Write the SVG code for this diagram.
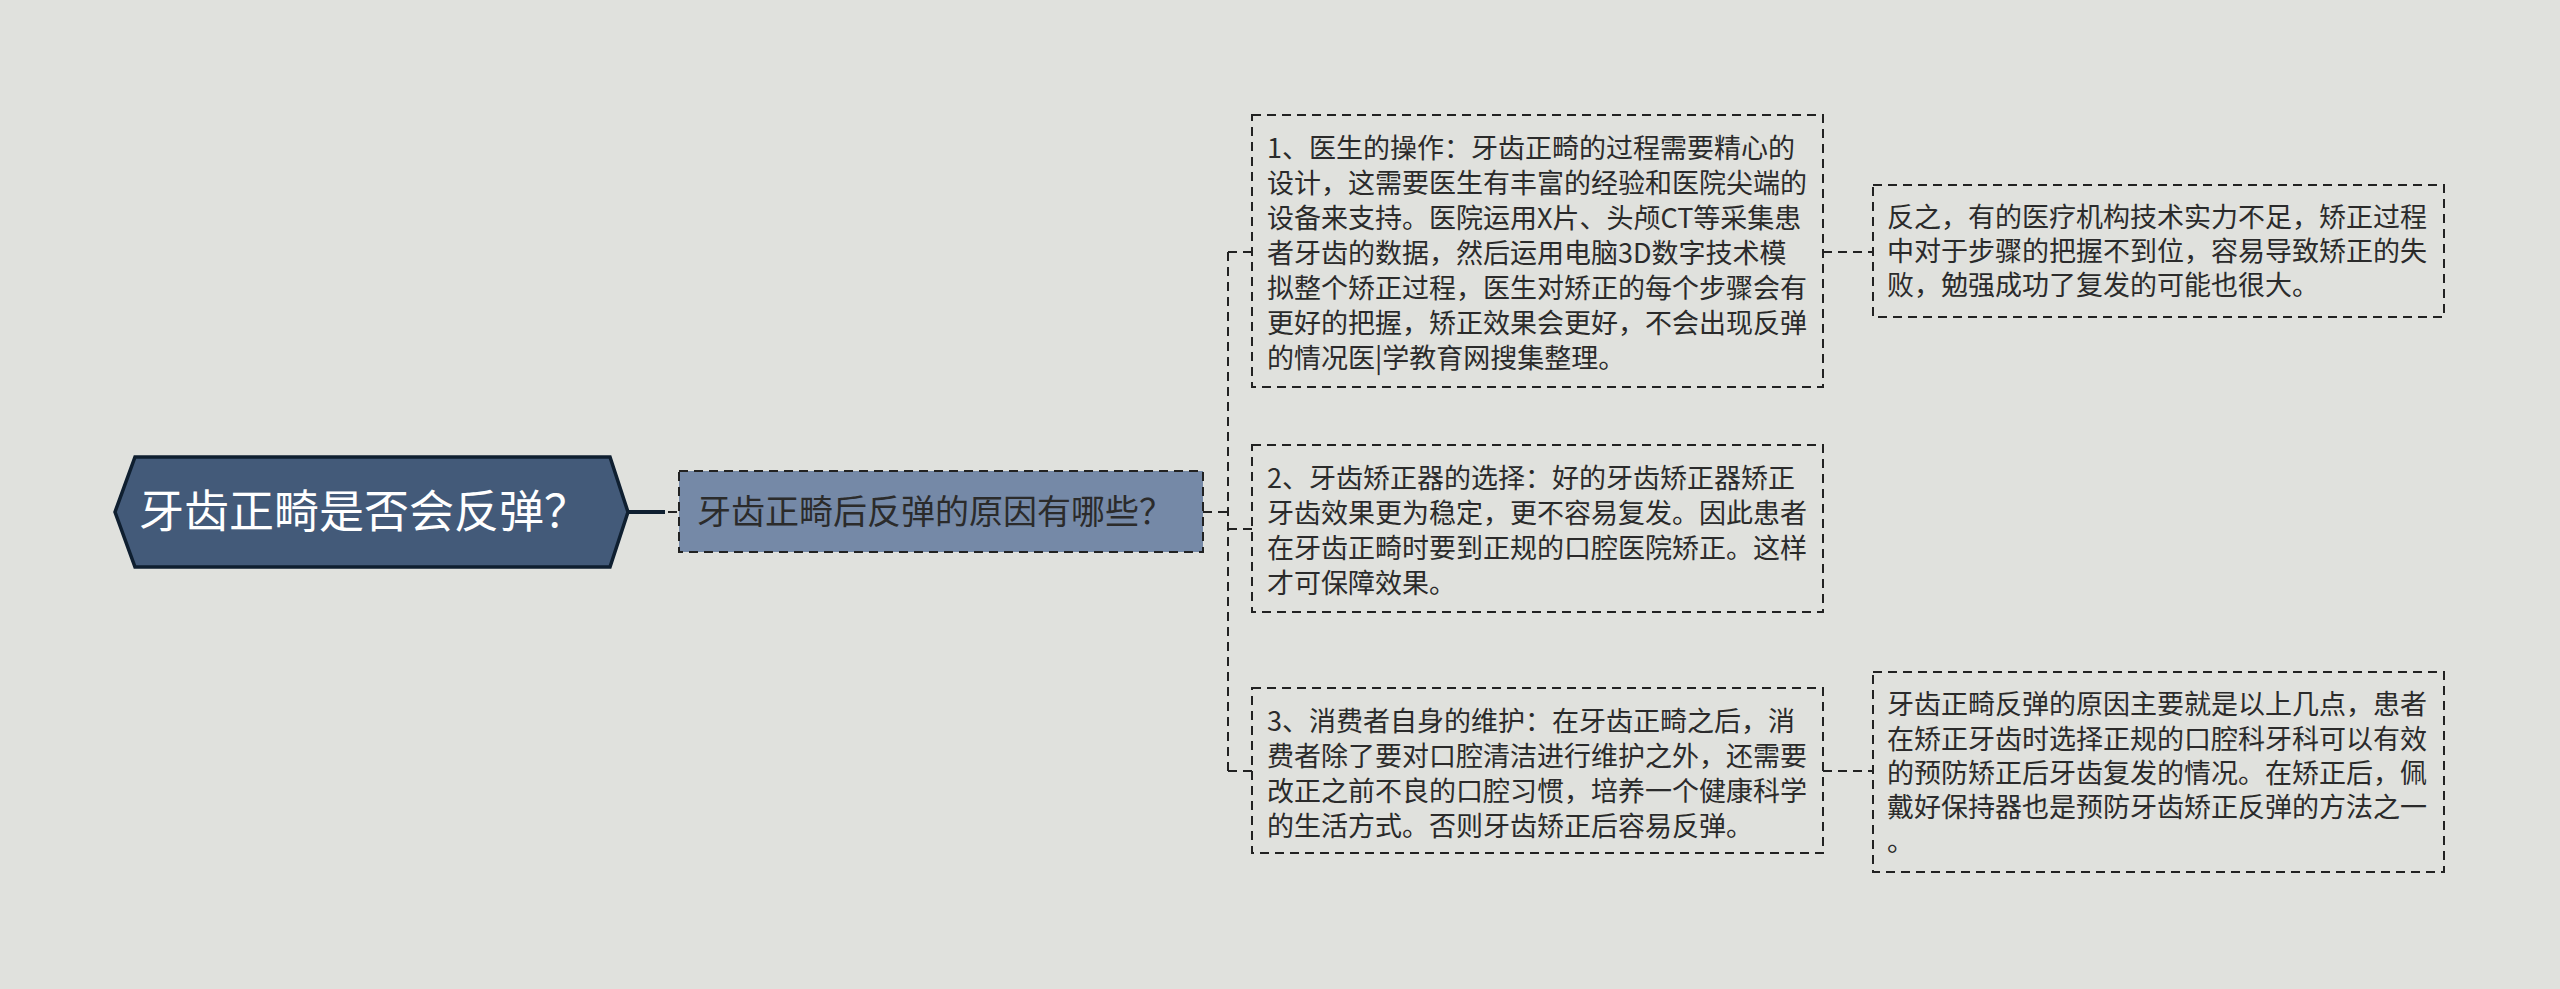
<svg xmlns="http://www.w3.org/2000/svg" width="2560" height="989" viewBox="0 0 2560 989">
<style>
.bg{fill:#e0e1dd}
.box{fill:none;stroke:#222;stroke-width:2;stroke-dasharray:9 6}
.t{font-family:"Noto Sans CJK SC","Noto Sans",sans-serif;font-size:27px;fill:#2b2b2b}
.c{fill:none;stroke:#222;stroke-width:2;stroke-dasharray:9 6}
</style>
<rect class="bg" x="0" y="0" width="2560" height="989"/>
<g id="connectors">
<line x1="628" y1="512" x2="665" y2="512" stroke="#0f1f30" stroke-width="4"/>
<line class="c" x1="668" y1="512" x2="679" y2="512"/>
<line class="c" x1="1203" y1="512" x2="1228" y2="512"/>
<line class="c" x1="1228" y1="252" x2="1228" y2="771"/>
<line class="c" x1="1228" y1="252" x2="1252" y2="252"/>
<line class="c" x1="1228" y1="529" x2="1252" y2="529"/>
<line class="c" x1="1228" y1="771" x2="1252" y2="771"/>
<line class="c" x1="1823" y1="252" x2="1873" y2="252"/>
<line class="c" x1="1823" y1="771" x2="1873" y2="771"/>
</g>
<g id="root">
<polygon points="115,512 135,457 610,457 628,512 610,567 135,567" fill="#435a79" stroke="#0f1f30" stroke-width="3.5"/>
<text x="139" y="528" font-family="Noto Sans CJK SC, Noto Sans, sans-serif" font-size="45" fill="#ffffff">牙齿正畸是否会反弹？</text>
</g>
<g id="sub">
<rect x="679" y="471" width="524" height="81" fill="#7589a7" stroke="#222" stroke-width="2" stroke-dasharray="9 6"/>
<text x="697" y="524" font-family="Noto Sans CJK SC, Noto Sans, sans-serif" font-size="34" fill="#2b2b2b">牙齿正畸后反弹的原因有哪些？</text>
</g>
<g id="box1">
<rect class="box" x="1252" y="115" width="571" height="272"/>
<text class="t" x="1267" y="158">1、医生的操作：牙齿正畸的过程需要精心的</text>
<text class="t" x="1267" y="193">设计，这需要医生有丰富的经验和医院尖端的</text>
<text class="t" x="1267" y="228">设备来支持。医院运用X片、头颅CT等采集患</text>
<text class="t" x="1267" y="263">者牙齿的数据，然后运用电脑3D数字技术模</text>
<text class="t" x="1267" y="298">拟整个矫正过程，医生对矫正的每个步骤会有</text>
<text class="t" x="1267" y="333">更好的把握，矫正效果会更好，不会出现反弹</text>
<text class="t" x="1267" y="368">的情况医|学教育网搜集整理。</text>
</g>
<g id="box2">
<rect class="box" x="1252" y="445" width="571" height="167"/>
<text class="t" x="1267" y="488">2、牙齿矫正器的选择：好的牙齿矫正器矫正</text>
<text class="t" x="1267" y="523">牙齿效果更为稳定，更不容易复发。因此患者</text>
<text class="t" x="1267" y="558">在牙齿正畸时要到正规的口腔医院矫正。这样</text>
<text class="t" x="1267" y="593">才可保障效果。</text>
</g>
<g id="box3">
<rect class="box" x="1252" y="688" width="571" height="165"/>
<text class="t" x="1267" y="731">3、消费者自身的维护：在牙齿正畸之后，消</text>
<text class="t" x="1267" y="766">费者除了要对口腔清洁进行维护之外，还需要</text>
<text class="t" x="1267" y="801">改正之前不良的口腔习惯，培养一个健康科学</text>
<text class="t" x="1267" y="836">的生活方式。否则牙齿矫正后容易反弹。</text>
</g>
<g id="box4">
<rect class="box" x="1873" y="185" width="571" height="132"/>
<text class="t" x="1887" y="227">反之，有的医疗机构技术实力不足，矫正过程</text>
<text class="t" x="1887" y="261">中对于步骤的把握不到位，容易导致矫正的失</text>
<text class="t" x="1887" y="295">败，勉强成功了复发的可能也很大。</text>
</g>
<g id="box5">
<rect class="box" x="1873" y="672" width="571" height="200"/>
<text class="t" x="1887" y="714">牙齿正畸反弹的原因主要就是以上几点，患者</text>
<text class="t" x="1887" y="749">在矫正牙齿时选择正规的口腔科牙科可以有效</text>
<text class="t" x="1887" y="783">的预防矫正后牙齿复发的情况。在矫正后，佩</text>
<text class="t" x="1887" y="817">戴好保持器也是预防牙齿矫正反弹的方法之一</text>
<text class="t" x="1887" y="851">。</text>
</g>
</svg>
